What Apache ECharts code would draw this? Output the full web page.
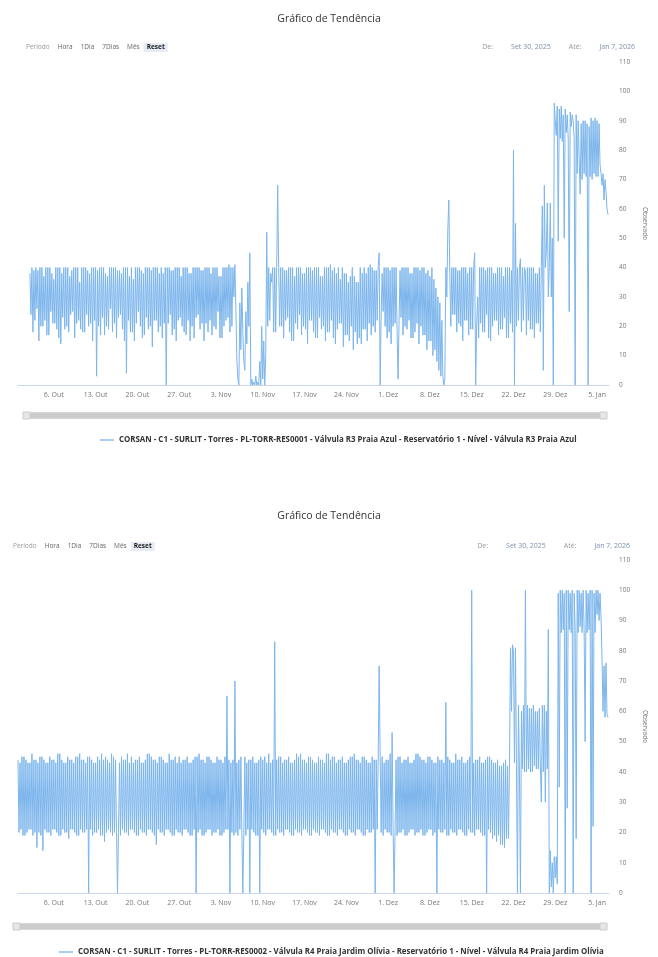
<!DOCTYPE html>
<html>
<head>
<meta charset="utf-8">
<script src="https://cdn.jsdelivr.net/npm/echarts@6/dist/echarts.min.js"></script>
<style>
html,body{margin:0;padding:0;background:#fff;}
#chart{width:658px;height:957px;}
</style>
</head>
<body>
<div id="chart"></div>
<script>
// ---------- data ----------
const chartTitle = 'Gráfico de Tendência';
const yAxisName = 'Observado';
const seriesNames = [
  'CORSAN - C1 - SURLIT - Torres - PL-TORR-RES0001 - Válvula R3 Praia Azul - Reservatório 1 - Nível - Válvula R3 Praia Azul',
  'CORSAN - C1 - SURLIT - Torres - PL-TORR-RES0002 - Válvula R4 Praia Jardim Olívia - Reservatório 1 - Nível - Válvula R4 Praia Jardim Olívia'
];
const selectorLabels = ['Período', 'Hora', '1Dia', '7Dias', 'Mês', 'Reset'];
const rangeFrom = 'Set 30, 2025';
const rangeTo = 'Jan 7, 2026';
const tickDates = ['2025-10-06','2025-10-13','2025-10-20','2025-10-27','2025-11-03','2025-11-10','2025-11-17','2025-11-24','2025-12-01','2025-12-08','2025-12-15','2025-12-22','2025-12-29','2026-01-05'];
const tickLabels = ['6. Out','13. Out','20. Out','27. Out','3. Nov','10. Nov','17. Nov','24. Nov','1. Dez','8. Dez','15. Dez','22. Dez','29. Dez','5. Jan'];
const axisStart = '2025-09-30';
const axisEnd = '2026-01-07';
const start1 = '2025-10-02';   // first reading, series 1
const start2 = '2025-09-30';   // first reading, series 2
const stepHours = 4;           // one reading every 4 hours (6 per day)

// series 1: one line per week, 6 readings per day
const values1 = [
38,24,40,18,39,22, 40,26,39,15,40,20, 40,20,37,22,40,17, 40,17,40,25,38,21, 36,21,40,19,40,16, 40,14,38,23,40,19, 40,20,40,18,37,24,
39,25,40,16,40,21, 40,22,35,19,40,18, 40,18,40,24,39,20, 38,21,40,15,40,22, 40,3,39,20,40,17, 40,23,40,17,38,20, 37,19,40,26,40,18,
40,21,40,16,39,23, 39,24,38,19,40,15, 40,4,40,22,37,18, 40,18,36,15,40,21, 40,25,40,20,39,16, 38,17,40,23,40,19, 40,20,39,13,40,22,
40,22,40,18,38,20, 40,16,38,21,40,0, 40,21,40,24,39,17, 39,19,40,15,40,22, 40,23,37,20,40,18, 40,17,40,22,38,15, 38,20,40,16,40,23,
40,24,40,19,39,21, 39,15,40,21,40,18, 40,22,38,17,40,20, 40,19,40,25,37,16, 37,16,40,20,40,22, 40,23,41,18,40,20, 40,30,41,25,8,2,
0,28,12,33,18,8, 5,25,14,35,20,45, 0,2,0,1,0,3, 0,1,0,8,0,20, 2,15,0,10,52,20, 40,22,38,35,40,18, 40,18,40,68,40,20,
40,20,40,16,39,22, 39,23,40,18,40,15, 40,15,37,21,40,19, 40,24,40,17,38,20, 38,19,40,14,40,22, 40,22,39,18,40,16, 40,16,40,23,37,19,
37,20,40,15,40,18, 40,18,41,22,39,16, 40,14,38,19,40,21, 36,21,40,13,38,17, 38,17,35,15,37,20, 40,12,37,18,35,14, 35,16,40,14,38,19,
40,19,38,15,40,21, 41,17,40,20,39,18, 39,22,40,45,0,24, 38,25,40,20,40,16, 40,18,39,14,40,20, 40,21,40,19,2,22, 39,23,40,17,40,20,
40,19,40,22,38,16, 38,16,40,18,40,21, 40,14,39,20,40,17, 40,17,38,12,39,15, 37,15,40,10,36,12, 33,8,30,5,28,3, 22,3,0,2,40,30,
53,63,38,20,40,24, 40,24,40,18,39,21, 39,20,40,15,40,22, 40,22,38,17,40,19, 40,19,40,45,0,20, 30,16,40,21,40,18, 40,18,39,24,40,16,
40,15,40,20,38,22, 38,22,40,17,40,19, 40,19,37,23,40,16, 40,16,40,21,39,18, 80,0,55,20,40,22, 40,43,18,40,22,40, 39,17,40,22,40,19,
40,19,40,16,38,21, 38,21,40,18,40,61, 5,68,40,45,62,30, 40,62,30,50,0,96, 90,85,95,49,94,84, 95,83,92,50,94,86, 92,84,25,93,88,92,
90,84,0,92,72,90, 90,65,89,70,90,72, 90,71,89,0,88,71, 91,70,90,72,91,71, 90,71,89,75,72,68, 72,63,70,66,60,58
];

// series 2: one line per week, 6 readings per day
const values2 = [
44,20,43,21,45,19, 45,19,44,20,43,21, 43,21,46,19,44,20, 44,15,43,20,45,19, 45,14,44,21,43,20, 43,20,45,19,44,21, 44,21,43,20,46,19,
46,19,44,21,43,20, 43,20,45,18,44,21, 44,21,43,20,45,19, 45,19,46,21,44,20, 44,20,43,21,45,0, 45,21,44,19,43,20, 43,20,45,21,44,19,
46,19,44,17,45,20, 44,21,43,20,46,19, 45,20,44,21,0,20, 43,19,45,21,44,20, 44,20,46,19,43,21, 45,21,43,20,44,19, 44,19,45,21,43,20,
43,20,44,19,46,21, 46,21,45,20,44,19, 44,16,43,21,45,20, 45,20,44,19,43,21, 43,21,46,20,44,19, 44,19,45,21,43,20, 45,20,43,19,44,21,
44,21,45,20,43,19, 43,19,44,21,45,0, 45,20,46,21,44,19, 44,19,43,20,45,21, 45,21,44,19,43,20, 43,20,45,21,44,19, 44,19,43,20,45,21,
65,21,44,0,43,20, 44,19,70,20,43,19, 44,21,45,20,0,20, 45,19,43,21,44,0, 44,21,45,20,43,19, 43,19,44,0,45,21, 44,20,45,19,43,21,
46,21,43,20,44,19, 83,19,44,21,45,20, 45,20,43,19,44,21, 44,21,45,20,43,19, 43,19,44,21,46,20, 45,20,46,19,44,21, 44,21,43,20,45,19,
45,19,44,21,43,20, 43,20,45,19,44,21, 44,21,43,20,46,19, 46,19,44,21,45,20, 45,20,43,19,44,21, 44,21,45,20,43,19, 43,19,44,21,45,20,
45,20,46,19,44,21, 44,21,43,20,45,19, 45,19,44,21,43,20, 43,20,45,21,44,0, 44,21,43,75,45,20, 45,19,43,21,44,20, 44,20,46,19,53,21,
0,21,44,19,45,20, 45,20,43,21,44,19, 44,19,45,20,43,21, 43,21,44,19,46,20, 46,20,45,21,44,19, 44,19,43,20,45,21, 45,21,44,19,43,20,
43,0,45,21,44,20, 44,20,43,21,63,19, 45,19,44,21,43,20, 43,20,46,19,44,21, 44,21,45,20,43,19, 43,19,44,21,45,20, 100,20,43,19,44,21,
44,21,45,20,43,19, 43,19,44,0,45,21, 45,20,44,18,43,19, 43,17,44,19,42,16, 42,16,43,15,44,18, 42,18,43,81,60,82, 80,43,81,42,0,62,
40,0,60,41,62,40, 100,40,62,41,61,40, 61,40,62,42,60,41, 60,41,61,42,30,62, 40,62,30,60,41,87, 0,14,2,10,0,12, 5,12,3,99,35,100,
86,100,87,99,0,100, 28,100,87,99,86,100, 0,99,87,18,100,86, 100,88,99,86,100,87, 50,100,86,99,87,100, 0,100,22,99,86,100, 92,100,90,99,91,77,
60,75,58,76,59,58
];

// ---------- build ----------
function ts(s){ const p = s.split('-').map(Number); return new Date(p[0], p[1]-1, p[2]).getTime(); }
const tickValues = tickDates.map(ts);
function toSeries(startStr, vals){
  const t0 = ts(startStr);
  return vals.map((v,i)=>[t0 + i*stepHours*3600*1000, v]);
}
const FONT = '"Open Sans", "DejaVu Sans", sans-serif';
const lineColor = '#7cb5ec';

function xAxisCfg(gi){
  return {
    type:'value', gridIndex:gi, min:ts(axisStart), max:ts(axisEnd),
    axisLine:{show:true, onZero:false, lineStyle:{color:'#ccd6eb', width:1}},
    axisTick:{show:false},
    splitLine:{show:false},
    axisLabel:{
      customValues: tickValues,
      formatter: function(v){ const i = tickValues.findIndex(t=>Math.abs(t-v)<60000); return i>=0 ? tickLabels[i] : ''; },
      fontSize:7, color:'#777', margin:6, fontFamily:FONT, hideOverlap:false
    }
  };
}
function yAxisCfg(gi){
  return {
    type:'value', gridIndex:gi, position:'right', min:0, max:110, interval:10,
    axisLine:{show:false}, axisTick:{show:false}, splitLine:{show:false},
    axisLabel:{fontSize:6.5, color:'#777', margin:10, fontFamily:FONT},
    name:yAxisName, nameLocation:'middle', nameGap:14, nameRotate:-90,
    nameTextStyle:{fontSize:6.5, color:'#777', fontFamily:FONT}
  };
}
function selectorTitle(left, top){
  const parts = selectorLabels.map((s,i)=> (i===0 ? '{a|' : (i===selectorLabels.length-1 ? '{c|' : '{b|')) + s + '}');
  return {
    text: parts.join(''),
    left:left, top:top,
    textStyle:{ fontWeight:'normal', rich:{
      a:{fontSize:6.5, color:'#999', fontWeight:'normal', fontFamily:FONT, padding:[0,4]},
      b:{fontSize:6.5, color:'#666', fontWeight:'normal', fontFamily:FONT, padding:[0,4]},
      c:{fontSize:6.5, color:'#222', fontWeight:'bold', fontFamily:FONT, backgroundColor:'#e6ebf5', padding:[1,3]}
    }}
  };
}
function rangeTitle(right, top){
  return {
    text:'{a|De:}{b|'+rangeFrom+'}{a|Até:}{b|'+rangeTo+'}',
    right:right, top:top,
    textStyle:{ fontWeight:'normal', rich:{
      a:{fontSize:7, color:'#999', fontWeight:'normal', fontFamily:FONT, padding:[0,9]},
      b:{fontSize:7, color:'#7f8fb0', fontWeight:'normal', fontFamily:FONT, padding:[0,9]}
    }}
  };
}
function sliderCfg(xi, top, left, right){
  return {
    type:'slider', xAxisIndex:xi, filterMode:'none', start:0, end:100,
    left:left, right:right, top:top, height:7,
    showDetail:false, showDataShadow:false, brushSelect:false, zoomLock:true,
    backgroundColor:'#f2f2f2', borderColor:'#d6d6d6', fillerColor:'#cccccc',
    handleIcon:'path://M0,0 L10,0 L10,10 L0,10 Z', handleSize:'100%',
    handleStyle:{color:'#e6e6e6', borderColor:'#cccccc'},
    moveHandleSize:0, textStyle:{color:'rgba(0,0,0,0)'}
  };
}

const chart = echarts.init(document.getElementById('chart'), null, {renderer:'canvas'});
chart.setOption({
  backgroundColor:'#ffffff',
  animation:false,
  title:[
    {text:chartTitle, left:'center', top:9, textStyle:{fontSize:10.5, fontWeight:'normal', color:'#333', fontFamily:FONT}},
    selectorTitle(17, 38),
    rangeTitle(27, 38),
    {text:chartTitle, left:'center', top:506, textStyle:{fontSize:10.5, fontWeight:'normal', color:'#333', fontFamily:FONT}},
    selectorTitle(4, 537),
    rangeTitle(32, 537)
  ],
  legend:[
    {data:[seriesNames[0]], left:95, top:431, icon:'path://M0,0 L16,0 L16,1.5 L0,1.5 Z', itemWidth:14, itemHeight:2, itemGap:4,
     textStyle:{fontSize:7.9, color:'#333', fontWeight:'bold', fontFamily:FONT}},
    {data:[seriesNames[1]], left:54, top:943, icon:'path://M0,0 L16,0 L16,1.5 L0,1.5 Z', itemWidth:14, itemHeight:2, itemGap:4,
     textStyle:{fontSize:7.9, color:'#333', fontWeight:'bold', fontFamily:FONT}}
  ],
  grid:[
    {left:18, right:49, top:62, height:323},
    {left:18, right:49, top:560, height:333}
  ],
  xAxis:[xAxisCfg(0), xAxisCfg(1)],
  yAxis:[yAxisCfg(0), yAxisCfg(1)],
  dataZoom:[sliderCfg(0, 412, 24, 55), sliderCfg(1, 923, 14, 55)],
  series:[
    {name:seriesNames[0], type:'line', xAxisIndex:0, yAxisIndex:0, data:toSeries(start1, values1),
     symbol:'none', lineStyle:{color:lineColor, width:1}, itemStyle:{color:lineColor}},
    {name:seriesNames[1], type:'line', xAxisIndex:1, yAxisIndex:1, data:toSeries(start2, values2),
     symbol:'none', lineStyle:{color:lineColor, width:1}, itemStyle:{color:lineColor}}
  ]
});
</script>
</body>
</html>
